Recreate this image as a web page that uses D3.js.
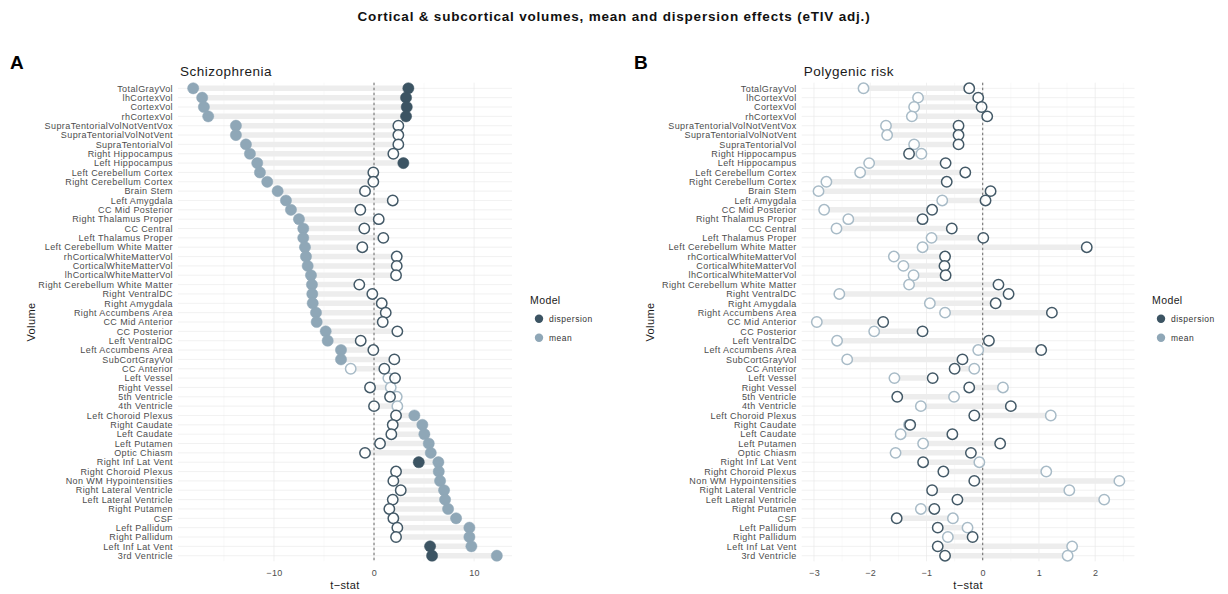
<!DOCTYPE html>
<html>
<head>
<meta charset="utf-8">
<script src="https://cdn.jsdelivr.net/npm/d3@7"></script>
<style>
  body { margin: 0; background: #fff; }
  svg { display: block; font-family: "Liberation Sans", Arial, sans-serif; }
</style>
</head>
<body>
<svg id="chart" width="1228" height="594"></svg>
<script>
// Brain structures, top to bottom
const regions = [
  "TotalGrayVol", "lhCortexVol", "CortexVol", "rhCortexVol",
  "SupraTentorialVolNotVentVox", "SupraTentorialVolNotVent", "SupraTentorialVol",
  "Right Hippocampus", "Left Hippocampus", "Left Cerebellum Cortex", "Right Cerebellum Cortex",
  "Brain Stem", "Left Amygdala", "CC Mid Posterior", "Right Thalamus Proper", "CC Central",
  "Left Thalamus Proper", "Left Cerebellum White Matter", "rhCorticalWhiteMatterVol",
  "CorticalWhiteMatterVol", "lhCorticalWhiteMatterVol", "Right Cerebellum White Matter",
  "Right VentralDC", "Right Amygdala", "Right Accumbens Area", "CC Mid Anterior", "CC Posterior",
  "Left VentralDC", "Left Accumbens Area", "SubCortGrayVol", "CC Anterior", "Left Vessel",
  "Right Vessel", "5th Ventricle", "4th Ventricle", "Left Choroid Plexus", "Right Caudate",
  "Left Caudate", "Left Putamen", "Optic Chiasm", "Right Inf Lat Vent", "Right Choroid Plexus",
  "Non WM Hypointensities", "Right Lateral Ventricle", "Left Lateral Ventricle", "Right Putamen",
  "CSF", "Left Pallidum", "Right Pallidum", "Left Inf Lat Vent", "3rd Ventricle"
];

// Schizophrenia: t-statistics for the mean and dispersion models
const scMean = [
  -18.07, -17.17, -17.0, -16.57, -13.8, -13.8, -12.8, -12.4, -11.67, -11.4, -10.67,
  -9.63, -8.8, -8.3, -7.5, -7.07, -7.07, -6.9, -6.8, -6.63, -6.3, -6.2, -6.17, -6.13,
  -5.8, -5.73, -4.83, -4.63, -3.3, -3.3, -2.33, 1.43, 1.67, 2.27, 2.33, 4.03, 4.83,
  5.03, 5.47, 5.67, 6.43, 6.47, 6.6, 7.0, 7.1, 7.4, 8.2, 9.53, 9.53, 9.73, 12.27
];
const scDisp = [
  3.43, 3.2, 3.27, 3.2, 2.43, 2.43, 2.43, 1.93, 2.93, -0.07, -0.07,
  -0.9, 1.87, -1.37, 0.47, -0.97, 0.93, -1.17, 2.27, 2.27, 2.2, -1.47, -0.17, 0.77,
  1.17, 0.87, 2.33, -1.33, -0.07, 2.03, 1.03, 2.1, -0.4, 1.6, 0.0, 2.2, 1.87,
  1.73, 0.6, -0.9, 4.47, 2.2, 1.93, 2.67, 1.87, 1.53, 1.93, 2.33, 2.2, 5.6, 5.8
];
// 1 = significant (filled marker), 0 = not significant (open marker)
const scMeanSig = [
  1, 1, 1, 1, 1, 1, 1, 1, 1, 1, 1, 1, 1, 1, 1, 1, 1, 1, 1, 1, 1, 1, 1, 1, 1,
  1, 1, 1, 1, 1, 0, 0, 0, 0, 0, 1, 1, 1, 1, 1, 1, 1, 1, 1, 1, 1, 1, 1, 1, 1, 1
];
const scDispSig = [
  1, 1, 1, 1, 0, 0, 0, 0, 1, 0, 0, 0, 0, 0, 0, 0, 0, 0, 0, 0, 0, 0, 0, 0, 0,
  0, 0, 0, 0, 0, 0, 0, 0, 0, 0, 0, 0, 0, 0, 0, 1, 0, 0, 0, 0, 0, 0, 0, 0, 1, 1
];

// Polygenic risk: t-statistics for the mean and dispersion models
const prsMean = [
  -2.12, -1.15, -1.22, -1.26, -1.72, -1.70, -1.22, -1.09, -2.02, -2.18, -2.78,
  -2.92, -0.72, -2.82, -2.39, -2.60, -0.91, -1.07, -1.58, -1.41, -1.23, -1.31, -2.55, -0.94,
  -0.67, -2.95, -1.93, -2.59, -0.08, -2.41, -0.15, -1.57, 0.36, -0.51, -1.10, 1.21, -1.31,
  -1.46, -1.06, -1.55, -0.06, 1.13, 2.43, 1.54, 2.16, -1.10, -0.53, -0.27, -0.62, 1.59, 1.51
];
const prsDisp = [
  -0.24, -0.08, -0.02, 0.08, -0.43, -0.43, -0.43, -1.31, -0.66, -0.31, -0.64,
  0.14, 0.05, -0.90, -1.07, -0.55, 0.01, 1.85, -0.67, -0.68, -0.66, 0.28, 0.46, 0.23,
  1.23, -1.77, -1.07, 0.11, 1.04, -0.36, -0.50, -0.89, -0.24, -1.52, 0.50, -0.15, -1.29,
  -0.54, 0.31, -0.21, -1.06, -0.70, -0.15, -0.90, -0.45, -0.86, -1.53, -0.80, -0.18, -0.80, -0.67
];
const prsMeanSig = regions.map(() => 0);
const prsDispSig = regions.map(() => 0);

const scTicks = [-10, 0, 10];
const prsTicks = [-3, -2, -1, 0, 1, 2];

const models = ["dispersion", "mean"];
const colour = { dispersion: "#3c5463", mean: "#8fa7b7" };
const ringColour = { dispersion: "#435967", mean: "#a8bbc7" };

const svg = d3.select("#chart");

svg.append("text")
  .attr("x", 614).attr("y", 21)
  .attr("text-anchor", "middle")
  .attr("font-size", 13.5).attr("font-weight", "bold").attr("fill", "#111")
  .attr("letter-spacing", 0.8)
  .text("Cortical & subcortical volumes, mean and dispersion effects (eTIV adj.)");

function panel(cfg) {
  const g = svg.append("g");
  const [lo, hi] = d3.extent(cfg.mean.concat(cfg.disp));
  const pad = (hi - lo) * 0.05;
  const x = d3.scaleLinear().domain([lo - pad, hi + pad]).range([cfg.left, cfg.right]);
  const y = d3.scalePoint().domain(regions).range([88.3, 555.7]);
  const top = 82.7, bottom = 561.3;

  // panel letter and title
  g.append("text").attr("x", cfg.letterX).attr("y", 69)
    .attr("font-size", 19).attr("font-weight", "bold").attr("fill", "#000").text(cfg.letter);
  g.append("text").attr("x", cfg.left + 2).attr("y", 76)
    .attr("font-size", 13.5).attr("letter-spacing", 0.5).attr("fill", "#1a1a1a").text(cfg.title);

  // grid
  const step = cfg.ticks[1] - cfg.ticks[0];
  const minor = d3.range(Math.ceil((lo - pad) / (step / 2)), Math.floor((hi + pad) / (step / 2)) + 1)
    .map(k => k * step / 2).filter(v => !cfg.ticks.some(t => Math.abs(t - v) < 1e-9));
  g.append("g").selectAll("line").data(minor).join("line")
    .attr("x1", d => x(d)).attr("x2", d => x(d)).attr("y1", top).attr("y2", bottom)
    .attr("stroke", "#f3f3f3").attr("stroke-width", 0.5);
  g.append("g").selectAll("line").data(cfg.ticks).join("line")
    .attr("x1", d => x(d)).attr("x2", d => x(d)).attr("y1", top).attr("y2", bottom)
    .attr("stroke", "#e6e6e6").attr("stroke-width", 0.6);
  g.append("g").selectAll("line").data(regions).join("line")
    .attr("x1", cfg.left).attr("x2", cfg.right)
    .attr("y1", d => y(d)).attr("y2", d => y(d))
    .attr("stroke", "#e8e8e8").attr("stroke-width", 0.6);

  // mean-to-dispersion segments
  g.append("g").selectAll("line").data(regions).join("line")
    .attr("x1", (d, i) => x(cfg.mean[i])).attr("x2", (d, i) => x(cfg.disp[i]))
    .attr("y1", d => y(d)).attr("y2", d => y(d))
    .attr("stroke", "#ededed").attr("stroke-width", 5.5);

  // zero reference
  g.append("line").attr("x1", x(0)).attr("x2", x(0)).attr("y1", top).attr("y2", bottom)
    .attr("stroke", "#555").attr("stroke-width", 0.9).attr("stroke-dasharray", "2.5,2.5");

  // points
  const pts = [];
  regions.forEach((r, i) => {
    pts.push({ r, v: cfg.mean[i], m: "mean", sig: cfg.meanSig[i] });
  });
  regions.forEach((r, i) => {
    pts.push({ r, v: cfg.disp[i], m: "dispersion", sig: cfg.dispSig[i] });
  });
  g.append("g").selectAll("circle").data(pts).join("circle")
    .attr("cx", d => x(d.v)).attr("cy", d => y(d.r)).attr("r", d => d.sig ? 5.6 : 5.2)
    .attr("fill", d => d.sig ? colour[d.m] : "#fff")
    .attr("fill-opacity", d => d.sig ? 1 : 0.85)
    .attr("stroke", d => d.sig ? colour[d.m] : ringColour[d.m])
    .attr("stroke-width", d => d.sig ? 0.5 : 1.5);

  // y axis labels
  g.append("g").selectAll("text").data(regions).join("text")
    .attr("x", cfg.left - 5).attr("y", d => y(d) + 3.2)
    .attr("text-anchor", "end").attr("font-size", 9).attr("letter-spacing", 0.4)
    .attr("fill", "#4d4d4d")
    .text(d => d);

  // x axis
  const ax = g.append("g").attr("transform", `translate(0,${bottom + 2})`)
    .call(d3.axisBottom(x).tickValues(cfg.ticks).tickSize(0).tickPadding(6)
      .tickFormat(d => d < 0 ? "\u2212" + Math.abs(d) : d));
  ax.select(".domain").remove();
  ax.selectAll("text").attr("font-size", 9).attr("fill", "#4d4d4d").attr("letter-spacing", 0.3)
    .attr("font-family", "'Liberation Sans', Arial, sans-serif");

  g.append("text").attr("x", (cfg.left + cfg.right) / 2).attr("y", 589)
    .attr("text-anchor", "middle").attr("font-size", 11).attr("letter-spacing", 0.4)
    .attr("fill", "#1a1a1a").text("t\u2212stat");
  g.append("text").attr("transform", `translate(${cfg.yTitleX},322) rotate(-90)`)
    .attr("text-anchor", "middle").attr("font-size", 11).attr("letter-spacing", 0.4)
    .attr("fill", "#1a1a1a").text("Volume");

  // legend
  const lg = g.append("g").attr("transform", `translate(${cfg.legendX},0)`);
  lg.append("text").attr("x", 0).attr("y", 304).attr("font-size", 10.5).attr("letter-spacing", 0.4)
    .attr("fill", "#1a1a1a").text("Model");
  lg.selectAll("circle").data(models).join("circle")
    .attr("cx", 9).attr("cy", (d, i) => 318.8 + i * 19).attr("r", 4.2)
    .attr("fill", d => colour[d]);
  lg.selectAll("text.item").data(models).join("text").attr("class", "item")
    .attr("x", 19).attr("y", (d, i) => 321.8 + i * 19)
    .attr("font-size", 8.5).attr("letter-spacing", 0.5).attr("fill", "#333").text(d => d);
}

panel({
  letter: "A", letterX: 10, title: "Schizophrenia",
  mean: scMean, disp: scDisp, meanSig: scMeanSig, dispSig: scDispSig,
  left: 178, right: 512, ticks: scTicks, yTitleX: 35, legendX: 530
});

panel({
  letter: "B", letterX: 634, title: "Polygenic risk",
  mean: prsMean, disp: prsDisp, meanSig: prsMeanSig, dispSig: prsDispSig,
  left: 801.7, right: 1134.5, ticks: prsTicks, yTitleX: 654, legendX: 1152
});
</script>
</body>
</html>
